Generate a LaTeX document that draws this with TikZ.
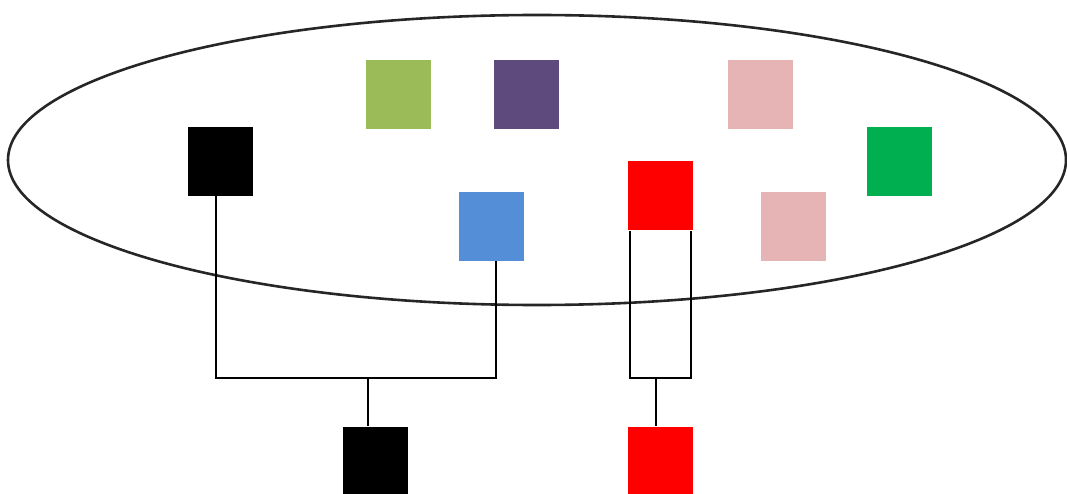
\documentclass[tikz,border=0pt]{standalone}
\begin{document}
\begin{tikzpicture}[x=1pt,y=-1pt,
  sq/.style={rectangle, inner sep=0pt, minimum width=65pt, minimum height=69pt, draw=none},
  wire/.style={line width=2.6pt, black, line join=miter},
  rim/.style={line width=2.6pt, black!85}]
\definecolor{olive}{HTML}{9BBB59}
\definecolor{grape}{HTML}{5F4A7D}
\definecolor{blush}{HTML}{E6B4B4}
\definecolor{leaf}{HTML}{00AF50}
\definecolor{sky}{HTML}{548ED6}
\definecolor{scarlet}{HTML}{FF0000}
\useasboundingbox (0,0) rectangle (1067,494);
\clip (0,0) rectangle (1067,494);

% outer set
\draw[rim] (537,160) ellipse [x radius=529pt, y radius=145pt];

% members of the set
\node[sq, fill=olive]   (olv)  at (398,94.5)  {};
\node[sq, fill=grape]   (prp)  at (526.5,94.5) {};
\node[sq, fill=blush]   (pk1)  at (760,94.5)  {};
\node[sq, fill=black]   (blk)  at (220,161.5) {};
\node[sq, fill=leaf]    (grn)  at (899,162)   {};
\node[sq, fill=scarlet] (red)  at (660.5,196) {};
\node[sq, fill=sky]     (blu)  at (491.5,226.5) {};
\node[sq, fill=blush]   (pk2)  at (793,226.5) {};

% results below the set
\node[sq, fill=black]   (blkb) at (375,461)   {};
\node[sq, fill=scarlet] (redb) at (660.5,461) {};

% joining bus for black and blue
\coordinate (busL) at (216,378);
\coordinate (busR) at (496,378);
\coordinate (bj)   at (368,378);
\draw[wire] (blk.south -| busL) -- (busL) -- (busR) -- (blu.south -| busR);
\draw[wire] (bj) -- (blkb.north -| bj);

% loop under the red square
\coordinate (rbL) at (630,378);
\coordinate (rbR) at (691,378);
\coordinate (rj)  at (656,378);
\draw[wire] (red.south -| rbL) -- (rbL) -- (rbR) -- (red.south -| rbR);
\draw[wire] (rj) -- (redb.north -| rj);
\end{tikzpicture}
\end{document}
